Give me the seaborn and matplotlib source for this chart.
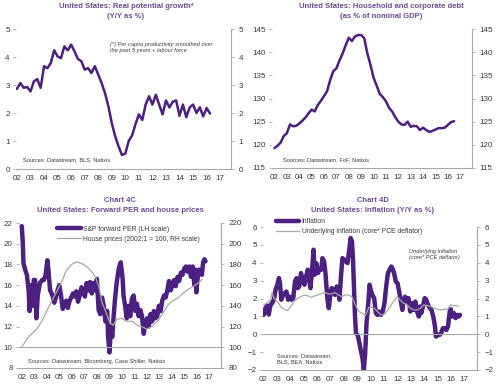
import numpy as np
import pandas as pd
import matplotlib
matplotlib.use("Agg")
import matplotlib.pyplot as plt
import seaborn as sns

# ---- data ----
# A: real potential growth, quarterly from 2002Q1
growth = [2.86, 3.07, 2.9, 2.93, 2.77, 3.13, 3.21, 2.9, 3.67, 3.6, 3.79, 4.24, 4.02, 3.96,
          4.38, 4.24, 4.44, 4.2, 3.93, 3.85, 3.55, 3.6, 3.43, 3.67, 3.37, 3.07, 2.71, 2.24,
          1.64, 1.17, 0.81, 0.5, 0.55, 1.0, 1.2, 1.6, 1.95, 1.75, 2.3, 2.6, 2.3, 2.65, 2.3,
          1.95, 2.45, 2.2, 2.4, 2.45, 1.9, 2.3, 1.85, 2.2, 2.3, 2.0, 2.2, 1.88, 2.18, 1.98]

# B: household and corporate debt (% of GDP), quarterly from 2002Q1
debt = [119.3, 119.8, 120.5, 121.9, 122.5, 124.4, 124.0, 124.1, 124.6, 125.2, 125.9, 126.8,
        127.6, 127.2, 128.6, 129.5, 130.5, 131.6, 134.0, 135.9, 136.5, 138.2, 139.7, 141.5,
        143.1, 142.4, 143.4, 143.7, 143.7, 143.0, 139.7, 137.3, 134.5, 132.8, 131.0, 130.3,
        129.4, 128.0, 127.2, 126.0, 125.0, 124.4, 124.3, 125.0, 123.9, 124.1, 124.0, 123.2,
        123.7, 123.2, 122.8, 123.0, 123.3, 123.6, 123.6, 123.7, 124.3, 124.9, 125.1]

# C: S&P forward PER and house prices
per_years = [2002.0, 2002.08, 2002.14, 2002.27, 2002.41, 2002.55, 2002.63, 2002.74, 2002.85,
             2002.96, 2003.07, 2003.17, 2003.28, 2003.45, 2003.64, 2003.78, 2003.91, 2004.05,
             2004.13, 2004.27, 2004.46, 2004.6, 2004.73, 2004.87, 2005.0, 2005.14, 2005.28,
             2005.42, 2005.55, 2005.69, 2005.83, 2005.96, 2006.1, 2006.23, 2006.37, 2006.5,
             2006.64, 2006.78, 2006.92, 2007.05, 2007.19, 2007.33, 2007.46, 2007.6, 2007.74,
             2007.87, 2008.01, 2008.15, 2008.28, 2008.42, 2008.56, 2008.69, 2008.83, 2008.91,
             2009.02, 2009.13, 2009.24, 2009.32, 2009.45, 2009.6, 2009.78, 2009.92, 2010.08,
             2010.14, 2010.27, 2010.4, 2010.54, 2010.68, 2010.81, 2010.95, 2011.08, 2011.22,
             2011.35, 2011.49, 2011.62, 2011.76, 2011.89, 2012.03, 2012.16, 2012.3, 2012.43,
             2012.57, 2012.7, 2012.84, 2012.97, 2013.11, 2013.24, 2013.38, 2013.51, 2013.65,
             2013.78, 2013.92, 2014.05, 2014.19, 2014.32, 2014.46, 2014.59, 2014.73, 2014.86,
             2015.0, 2015.14, 2015.27, 2015.41, 2015.54, 2015.68, 2015.81, 2015.89, 2015.97,
             2016.08, 2016.16, 2016.3, 2016.41, 2016.51, 2016.62, 2016.7]
per = [21.7, 20.2, 18.1, 17.5, 17.0, 15.5, 13.5, 16.0, 14.0, 16.5, 16.5, 12.8, 15.0, 16.2,
       16.5, 16.5, 17.0, 18.4, 17.5, 15.5, 15.0, 14.3, 14.8, 15.5, 16.0, 15.0, 13.7, 14.2,
       14.5, 13.8, 14.5, 14.8, 15.2, 14.9, 15.4, 14.4, 15.0, 15.8, 15.4, 14.9, 16.2, 15.5,
       16.3, 15.2, 16.2, 15.5, 16.6, 13.6, 13.2, 14.8, 14.0, 12.5, 13.5, 11.0, 9.5, 12.0,
       11.0, 12.5, 14.5, 16.3, 17.7, 18.2, 16.5, 15.0, 14.0, 12.8, 14.0, 13.0, 14.7, 15.0,
       13.5, 14.2, 13.0, 13.6, 13.0, 11.3, 12.3, 12.8, 12.0, 13.2, 12.5, 13.5, 12.8, 13.0,
       14.0, 13.5, 14.5, 15.0, 14.8, 15.5, 16.4, 15.5, 16.0, 16.5, 15.9, 16.8, 16.4, 17.2,
       17.0, 17.6, 17.8, 17.3, 17.8, 16.8, 17.8, 16.0, 17.5, 15.3, 16.8, 17.5, 17.3, 17.0,
       18.2, 18.5, 18.3]
house_years = [2002.0, 2002.4, 2002.8, 2003.2, 2003.6, 2004.0, 2004.45, 2004.85, 2005.3,
               2005.55, 2006.0, 2006.4, 2006.8, 2007.2, 2007.6, 2007.9, 2008.2, 2008.4,
               2008.7, 2009.0, 2009.3, 2009.6, 2010.0, 2010.4, 2010.85, 2011.3, 2011.6,
               2012.0, 2012.4, 2012.85, 2013.3, 2013.7, 2014.1, 2014.5, 2014.9, 2015.3,
               2015.7, 2016.1, 2016.45]
house = [100, 108, 113, 117.5, 125, 135, 146, 155, 166, 174, 180, 182.5, 181, 178, 173, 168,
         157, 144, 135, 125, 121, 127, 128, 125, 125, 121, 120, 117.5, 120, 125, 133, 141,
         145, 147.6, 152.4, 155.6, 158.7, 161.9, 165.7]

# D: inflation and core PCE
infl_years = [2002.0, 2002.13, 2002.25, 2002.38, 2002.51, 2002.63, 2002.76, 2002.89, 2003.02,
              2003.14, 2003.22, 2003.32, 2003.45, 2003.57, 2003.7, 2003.83, 2003.95, 2004.08,
              2004.21, 2004.34, 2004.46, 2004.54, 2004.66, 2004.79, 2004.92, 2005.05, 2005.17,
              2005.3, 2005.38, 2005.5, 2005.63, 2005.73, 2005.81, 2005.93, 2006.06, 2006.19,
              2006.31, 2006.39, 2006.52, 2006.62, 2006.77, 2006.87, 2006.97, 2007.08, 2007.2,
              2007.33, 2007.46, 2007.58, 2007.66, 2007.79, 2007.89, 2008.02, 2008.14, 2008.27,
              2008.4, 2008.5, 2008.6, 2008.68, 2008.75, 2008.83, 2008.9, 2009.03, 2009.16,
              2009.28, 2009.39, 2009.49, 2009.59, 2009.69, 2009.82, 2009.92, 2010.0, 2010.13,
              2010.26, 2010.39, 2010.51, 2010.64, 2010.77, 2010.9, 2011.03, 2011.16, 2011.29,
              2011.41, 2011.54, 2011.62, 2011.75, 2011.88, 2012.01, 2012.13, 2012.26, 2012.37,
              2012.47, 2012.57, 2012.7, 2012.83, 2012.96, 2013.08, 2013.21, 2013.34, 2013.47,
              2013.6, 2013.68, 2013.78, 2013.91, 2014.04, 2014.16, 2014.29, 2014.42, 2014.55,
              2014.68, 2014.81, 2014.88, 2015.01, 2015.14, 2015.27, 2015.4, 2015.53, 2015.66,
              2015.78, 2015.91, 2015.99, 2016.09, 2016.22, 2016.35, 2016.48, 2016.58, 2016.68]
inflation = [1.08, 1.46, 1.6, 1.1, 1.65, 1.74, 1.93, 2.49, 2.77, 3.14, 2.86, 1.93, 2.2, 2.3,
             2.39, 1.93, 2.1, 1.93, 2.02, 2.95, 3.14, 2.58, 2.67, 3.42, 3.05, 2.77, 3.23, 3.61,
             3.14, 2.58, 3.7, 4.73, 3.33, 3.98, 3.42, 3.65, 3.61, 4.26, 4.07, 3.42, 1.93, 1.46,
             2.1, 2.58, 2.49, 2.2, 2.67, 2.49, 1.93, 3.33, 4.26, 4.17, 4.07, 3.98, 4.73, 5.38,
             5.2, 4.17, 2.67, 0.99, 0.06, -0.04, -0.5, -0.97, -1.35, -2.0, -1.05, 0.62, 1.74,
             2.77, 2.49, 2.2, 2.02, 1.18, 1.08, 1.27, 1.08, 1.27, 1.74, 2.67, 3.42, 3.61, 3.79,
             3.7, 3.42, 2.95, 2.86, 2.39, 1.83, 1.36, 1.93, 2.1, 1.83, 2.02, 1.27, 1.74, 1.36,
             1.83, 1.27, 0.99, 1.55, 1.18, 1.55, 2.02, 1.93, 1.64, 1.46, 1.36, 0.99, 0.43,
             -0.13, -0.04, -0.04, 0.06, 0.34, 0.34, 0.24, 0.43, 1.27, 1.4, 0.99, 1.18, 0.9,
             1.08, 0.99, 1.08]
core_years = [2002.0, 2002.25, 2002.51, 2002.63, 2002.76, 2003.02, 2003.27, 2003.52, 2003.78,
              2004.03, 2004.28, 2004.54, 2004.79, 2005.05, 2005.3, 2005.55, 2005.81, 2006.06,
              2006.31, 2006.57, 2006.82, 2007.08, 2007.33, 2007.58, 2007.84, 2008.09, 2008.35,
              2008.6, 2008.85, 2009.11, 2009.36, 2009.61, 2009.87, 2010.0, 2010.26, 2010.51,
              2010.77, 2011.03, 2011.29, 2011.54, 2011.8, 2012.01, 2012.19, 2012.44, 2012.7,
              2012.96, 2013.21, 2013.47, 2013.73, 2013.98, 2014.24, 2014.5, 2014.76, 2015.01,
              2015.27, 2015.53, 2015.78, 2015.96, 2016.17, 2016.43, 2016.56]
core = [1.65, 1.74, 1.93, 2.34, 2.02, 1.83, 1.55, 1.4, 1.33, 1.55, 1.83, 2.02, 2.1, 2.2, 2.15,
        2.07, 2.15, 2.2, 2.26, 2.34, 2.26, 2.26, 2.34, 2.2, 2.1, 2.2, 2.2, 2.1, 1.65, 1.27,
        1.18, 1.05, 1.5, 1.51, 1.46, 1.27, 1.08, 1.12, 1.36, 1.65, 1.93, 2.1, 1.93, 1.74,
        1.65, 1.46, 1.36, 1.36, 1.46, 1.65, 1.6, 1.55, 1.46, 1.4, 1.36, 1.4, 1.4, 1.65, 1.6,
        1.6, 1.55]

year_ticks = list(range(2002, 2018))
year_labels = [f"{y % 100:02d}" for y in year_ticks]

# ---- style ----
sns.set_style("white")
plt.rcParams['font.family'] = ['Liberation Sans', 'DejaVu Sans']

PURPLE = '#4b2080'
TITLE = '#6b4b98'
GREY = '#a8a8a8'
TXT = '#3a3a3a'
TICK_FS = 5.8
SMALL_FS = 4.1

fig = plt.figure(figsize=(5, 3.91), dpi=100)


def box(l, t, r, b):
    return [l / 500, 1 - b / 391, (r - l) / 500, (b - t) / 391]


def style(ax, xlim, ylim, yticks, rlim=None, rticks=None):
    ax.set_xlim(xlim)
    ax.set_ylim(ylim)
    ax.set_yticks(yticks)
    ax.set_xticks(year_ticks)
    ax.set_xticklabels(year_labels)
    ax.set_xlabel('')
    ax.set_ylabel('')
    for s in ['top', 'right', 'left']:
        ax.spines[s].set_visible(False)
    ax.spines['bottom'].set_color(GREY)
    ax.spines['bottom'].set_linewidth(0.8)
    ax.tick_params(labelsize=TICK_FS, labelcolor=TXT, color=GREY, length=2.5, width=0.6, pad=2)
    tw = ax.twinx()
    tw.set_ylim(rlim if rlim else ylim)
    tw.set_yticks(rticks if rticks else yticks)
    for s in ['top', 'left', 'bottom']:
        tw.spines[s].set_visible(False)
    tw.spines['right'].set_color(GREY)
    tw.spines['right'].set_linewidth(0.8)
    tw.tick_params(labelsize=TICK_FS, labelcolor=TXT, color=GREY, length=2.5, width=0.6, pad=3)
    tw.grid(False)
    return tw


def titles(x, y, lines):
    for i, s in enumerate(lines):
        fig.text(x / 500, 1 - (y + i * 10) / 391, s, ha='center', va='center',
                 fontsize=5.5, fontweight='bold', color=TITLE)


# A
ax1 = fig.add_axes(box(16, 29, 231, 169))
dfa = pd.DataFrame({'year': 2002 + np.arange(len(growth)) / 4, 'v': growth})
sns.lineplot(data=dfa, x='year', y='v', ax=ax1, color=PURPLE, lw=1.8)
style(ax1, (2001.93, 2017.8), (0, 5), range(0, 6))
titles(126, 6, ["United States: Real potential growth*", "(Y/Y as %)"])
ax1.text(2008.9, 4.33, "(*) Per capita productivity smoothed over\nthe past 5 years + labour force",
         fontsize=SMALL_FS, style='italic', color=TXT, va='center', linespacing=1.3)
ax1.text(2002.45, 0.33, "Sources: Datastream, BLS, Natixis", fontsize=SMALL_FS, color=TXT,
         va='center')

# B
ax2 = fig.add_axes(box(272, 29, 472, 168))
dfb = pd.DataFrame({'year': 2002 + np.arange(len(debt)) / 4, 'v': debt})
sns.lineplot(data=dfb, x='year', y='v', ax=ax2, color=PURPLE, lw=1.8)
style(ax2, (2001.8, 2017.95), (115, 145), range(115, 150, 5))
titles(381, 7, ["United States: Household and corporate debt", "(as % of nominal GDP)"])
ax2.text(2002.65, 116.7, "Sources: Datastream, FoF, Natixis", fontsize=SMALL_FS, color=TXT,
         va='center')

# C
ax3 = fig.add_axes(box(19, 223, 221, 368))
dfc = pd.DataFrame({'year': per_years, 'v': per})
sns.lineplot(data=dfc, x='year', y='v', ax=ax3, color=PURPLE, lw=2.2,
             label='S&P forward PER (LH scale)', legend=False)
ax3.axhline(10, color=GREY, lw=0.8)
tw3 = style(ax3, (2001.78, 2017.94), (8, 22), range(8, 24, 2), (80, 220), range(80, 240, 20))
dfh = pd.DataFrame({'year': house_years, 'v': house})
sns.lineplot(data=dfh, x='year', y='v', ax=tw3, color=GREY, lw=0.9,
             label='House prices (2002:1 = 100, RH scale)', legend=False)
tw3.set_ylabel('')
h1, l1 = ax3.get_legend_handles_labels()
h2, l2 = tw3.get_legend_handles_labels()
h1[0].set_linewidth(3.2)
leg = ax3.legend(h1 + h2, l1 + l2, loc='upper left', bbox_to_anchor=(0.17, 1.01), frameon=False,
                 fontsize=4.9, handlelength=3.4, handletextpad=0.4, labelspacing=0.45,
                 borderaxespad=0.2)
for t in leg.get_texts():
    t.set_color(TXT)
titles(120, 200, ["Chart 4C", "United States: Forward PER and house prices"])
ax3.text(2002.5, 8.6, "Sources: Datastream, Bloomberg, Case Shiller, Natixis", fontsize=SMALL_FS,
         color=TXT, va='center')

# D
ax4 = fig.add_axes(box(263, 227, 477, 370))
dfi = pd.DataFrame({'year': infl_years, 'v': inflation})
sns.lineplot(data=dfi, x='year', y='v', ax=ax4, color=PURPLE, lw=1.8, label='Inflation',
             legend=False)
dfp = pd.DataFrame({'year': core_years, 'v': core})
sns.lineplot(data=dfp, x='year', y='v', ax=ax4, color=GREY, lw=0.9,
             label='Underlying inflation (core* PCE deflator)', legend=False)
ax4.axhline(0, color=GREY, lw=0.8)
style(ax4, (2001.95, 2017.95), (-2, 6), range(-2, 7))
h4, l4 = ax4.get_legend_handles_labels()
h4[0].set_linewidth(3.2)
leg4 = ax4.legend(h4, l4, loc='upper left', bbox_to_anchor=(0.04, 1.09), frameon=False,
                  fontsize=4.9, handlelength=3.4, handletextpad=0.4, labelspacing=0.45,
                  borderaxespad=0.2)
for t in leg4.get_texts():
    t.set_color(TXT)
titles(373, 200, ["Chart 4D", "United States: Inflation (Y/Y as %)"])
ax4.text(2012.9, 4.45, "Underlying inflation\n(core* PCE deflator)", fontsize=SMALL_FS,
         style='italic', color=TXT, va='center', linespacing=1.3)
ax4.text(2003.0, -1.35, "Sources: Datastream,\nBLS, BEA, Natixis", fontsize=SMALL_FS, color=TXT,
         va='center', linespacing=1.3)

fig.savefig('out.png', dpi=100, facecolor='white')
